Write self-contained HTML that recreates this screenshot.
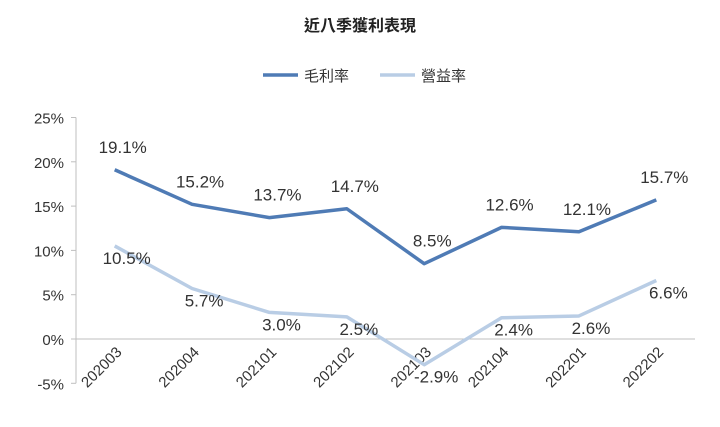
<!DOCTYPE html>
<html><head><meta charset="utf-8">
<style>
html,body{margin:0;padding:0;background:#fff;}
svg{display:block;font-family:"Liberation Sans","Noto Sans CJK TC",sans-serif;}
</style></head>
<body>
<svg id="chart" width="720" height="427" viewBox="0 0 720 427">
  <text x="360" y="31" text-anchor="middle" font-size="16" font-weight="bold" fill="#222">近八季獲利表現</text>
  <g>
    <g>
      <line x1="263" y1="75" x2="298" y2="75" stroke="#4f7bb5" stroke-width="3.5"/>
      <text x="304" y="81" font-size="15" fill="#333">毛利率</text>
    </g>
    <g>
      <line x1="380" y1="75" x2="415" y2="75" stroke="#b9cde5" stroke-width="3.5"/>
      <text x="421" y="81" font-size="15" fill="#333">營益率</text>
    </g>
  </g>
  <g id="axes"></g>
  <g id="series"></g>
</svg>
<script>
const categories = ["202003","202004","202101","202102","202103","202104","202201","202202"];
const grossMargin = [19.1,15.2,13.7,14.7,8.5,12.6,12.1,15.7];
const operatingMargin = [10.5,5.7,3.0,2.5,-2.9,2.4,2.6,6.6];
const yTicks = [25,20,15,10,5,0,-5];

const NS = "http://www.w3.org/2000/svg";
const plotL = 76, plotR = 695;
function x(i){ return plotL + (plotR-plotL)/categories.length*(i+0.5); }
function y(v){ return 339 - v*8.86; }
function mk(tag, attrs, parent){ const e=document.createElementNS(NS,tag); for(const k in attrs) e.setAttribute(k,attrs[k]); parent.appendChild(e); return e; }

const axes = document.getElementById('axes');
const series = document.getElementById('series');

const yAxis = mk('line',{x1:plotL,y1:y(25),x2:plotL,y2:y(-5),stroke:'#bfbfbf','stroke-width':1},axes);


const xAxis = mk('line',{x1:plotL,y1:y(0),x2:plotR,y2:y(0),stroke:'#bfbfbf','stroke-width':1},axes);



yTicks.forEach(v=>{
  const t = mk('text',{x:plotL-12,y:y(v)+6,'text-anchor':'end','font-size':15,fill:'#333'},axes);
  t.textContent = v+'%';
  
  
  const tk = mk('line',{x1:plotL-5,y1:y(v),x2:plotL,y2:y(v),stroke:'#bfbfbf'},axes);
  
  
});
categories.forEach((c,i)=>{
  const tx = x(i)+8, ty = y(0)+14;
  const t = mk('text',{x:tx,y:ty,'text-anchor':'end','font-size':15,fill:'#333',transform:`rotate(-45 ${tx} ${ty})`},axes);
  t.textContent = c;
  
  
});

function drawLine(vals,color,name,labelDy,labelDx){
  const pts = vals.map((v,i)=>x(i)+','+y(v)).join(' ');
  const pl = mk('polyline',{points:pts,fill:'none',stroke:color,'stroke-width':3.5,'stroke-linejoin':'round'},series);
  
  
  vals.forEach((v,i)=>{
    const t = mk('text',{x:x(i)+labelDx,y:y(v)+labelDy,'text-anchor':'middle','font-size':17,fill:'#333'},series);
    t.textContent = v.toFixed(1)+'%';
    
    
  });
}
drawLine(operatingMargin,'#b9cde5','operating-margin',18,12);
drawLine(grossMargin,'#4f7bb5','gross-margin',-17,8);
</script>
</body></html>
